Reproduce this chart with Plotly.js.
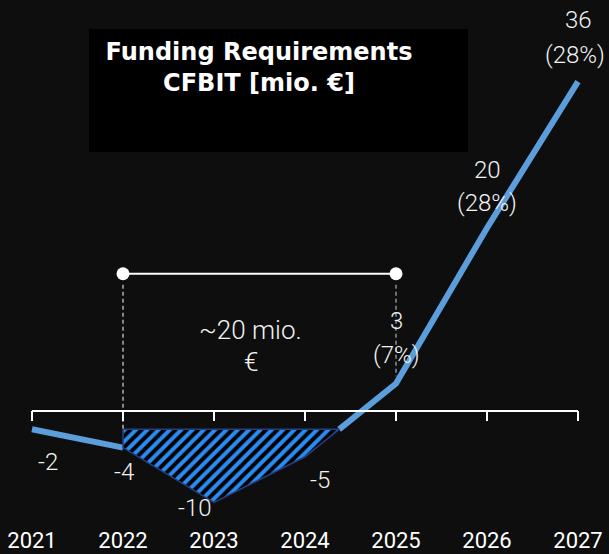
<!DOCTYPE html>
<html>
<head>
<meta charset="utf-8">
<script src="https://cdn.plot.ly/plotly-3.0.1.min.js"></script>
<style>
html,body{margin:0;padding:0;background:#0e0e0e;}
#chart{width:609px;height:554px;}
</style>
</head>
<body>
<div id="chart"></div>
<script>
// ---- data ----
const years = [2021, 2022, 2023, 2024, 2025, 2026, 2027];
const yearLabels = ["2021", "2022", "2023", "2024", "2025", "2026", "2027"];
const cfbit = [-2, -4, -10, -5, 3, 20, 36];
const shareLabels = ["", "", "", "", "(7%)", "(28%)", "(28%)"];
const hatchTop = -2;            // level of the funding gap area top
const bracketLevel = 15;        // level of the "~20 mio. €" bracket
const bracketText = ["~20 mio.", "€"];
const titleText = "Funding Requirements<br>CFBIT [mio. €]";

// ---- derived geometry ----
const i0 = 3, i1 = 4;
const t = (hatchTop - cfbit[i0]) / (cfbit[i1] - cfbit[i0]);
const xCross = years[i0] + t * (years[i1] - years[i0]);

const lineX = [years[0], years[1], null, xCross, years[4], years[5], years[6]];
const lineY = [cfbit[0], cfbit[1], null, hatchTop, cfbit[4], cfbit[5], cfbit[6]];

const hatchX = [years[1], xCross, years[3], years[2], years[1], years[1]];
const hatchY = [hatchTop, hatchTop, cfbit[3], cfbit[2], cfbit[1], hatchTop];

const lineColor = "#5b9edb";
const white = "#ffffff";
const labelFont = {family: "Roboto", size: 24, color: "#f2f2f2", weight: 300};

const plotBottom = 525; // px
const zeroPx = 411, pxPerUnit = 9.15;

const traces = [
  {
    x: lineX, y: lineY, mode: "lines", type: "scatter",
    line: {color: lineColor, width: 6}, hoverinfo: "skip", connectgaps: false
  },
  {
    x: hatchX, y: hatchY, mode: "lines", type: "scatter", fill: "toself",
    fillcolor: "#000000",
    fillpattern: {shape: "/", fgcolor: "#2a8cf2", bgcolor: "#000000", size: 8, solidity: 0.5},
    line: {color: "#24407f", width: 1.5}, hoverinfo: "skip"
  },
  {
    x: [years[1], years[4]], y: [bracketLevel, bracketLevel],
    mode: "lines+markers", type: "scatter",
    line: {color: white, width: 2}, marker: {color: white, size: 13},
    hoverinfo: "skip"
  }
];

// ---- shapes ----
const shapes = [];
shapes.push({type: "rect", xref: "paper", yref: "paper",
  x0: 89/609, x1: 468/609, y0: 1 - 152/plotBottom, y1: 1 - 29/plotBottom,
  fillcolor: "#000000", line: {width: 0}, layer: "below"});
shapes.push({type: "line", xref: "x", yref: "y", x0: years[0], x1: years[years.length-1],
  y0: 0, y1: 0, line: {color: white, width: 2}});
years.forEach(yr => {
  shapes.push({type: "line", xref: "x", yref: "y", x0: yr, x1: yr,
    ysizemode: "pixel", yanchor: 0, y0: 0, y1: -10, line: {color: white, width: 2}});
});
shapes.push({type: "line", xref: "x", yref: "y", x0: years[1], x1: years[1],
  y0: bracketLevel - 1.2, y1: hatchTop, line: {color: white, width: 1, dash: "4px,3px"}});
shapes.push({type: "line", xref: "x", yref: "y", x0: years[4], x1: years[4],
  y0: bracketLevel - 1.2, y1: cfbit[4] + 0.8, line: {color: "#d0d0d0", width: 1, dash: "4px,3px"}});

// ---- annotations ----
const valueShift = [[16, -33], [1, -24], [-19, -5], [15, -23], [0, 63], [0, 58], [0, 62]];
const shareShift = [null, null, null, null, [0, 29], [0, 25], [-3, 27]];
const annotations = [];
years.forEach((yr, i) => {
  annotations.push({x: yr, y: cfbit[i], xref: "x", yref: "y", text: String(cfbit[i]),
    showarrow: false, xshift: valueShift[i][0], yshift: valueShift[i][1], font: labelFont});
  if (shareLabels[i]) {
    annotations.push({x: yr, y: cfbit[i], xref: "x", yref: "y", text: shareLabels[i],
      showarrow: false, xshift: shareShift[i][0], yshift: shareShift[i][1], font: labelFont});
  }
});
const midX = (years[1] + years[4]) / 2;
const bracketFont = {family: "Roboto", size: 26, color: "#f2f2f2", weight: 300};
annotations.push({x: midX, y: bracketLevel, xref: "x", yref: "y", text: bracketText[0],
  showarrow: false, xshift: -9, yshift: -56, font: bracketFont});
annotations.push({x: midX, y: bracketLevel, xref: "x", yref: "y", text: bracketText[1],
  showarrow: false, xshift: -9, yshift: -88, font: bracketFont});

const layout = {
  width: 609, height: 554,
  margin: {l: 0, r: 0, t: 0, b: 554 - plotBottom, pad: 0},
  paper_bgcolor: "#0e0e0e", plot_bgcolor: "#0e0e0e",
  showlegend: false,
  title: {
    text: titleText, x: 259/609, xanchor: "center", xref: "container",
    y: 1 - 60/554, yanchor: "top", yref: "container",
    font: {family: "DejaVu Sans", size: 24, color: white, weight: 700}
  },
  xaxis: {
    range: [2021 - 32/91, 2027 + 31/91], type: "linear",
    tickvals: years, ticktext: yearLabels, ticks: "",
    showgrid: false, zeroline: false, showline: false,
    tickfont: {family: "Roboto", size: 22, color: white, weight: 400}, fixedrange: true
  },
  yaxis: {
    range: [-(plotBottom - zeroPx)/pxPerUnit, zeroPx/pxPerUnit],
    visible: false, showgrid: false, zeroline: false, fixedrange: true
  },
  shapes: shapes,
  annotations: annotations
};

Plotly.newPlot("chart", traces, layout, {displayModeBar: false, staticPlot: true});
</script>
</body>
</html>
